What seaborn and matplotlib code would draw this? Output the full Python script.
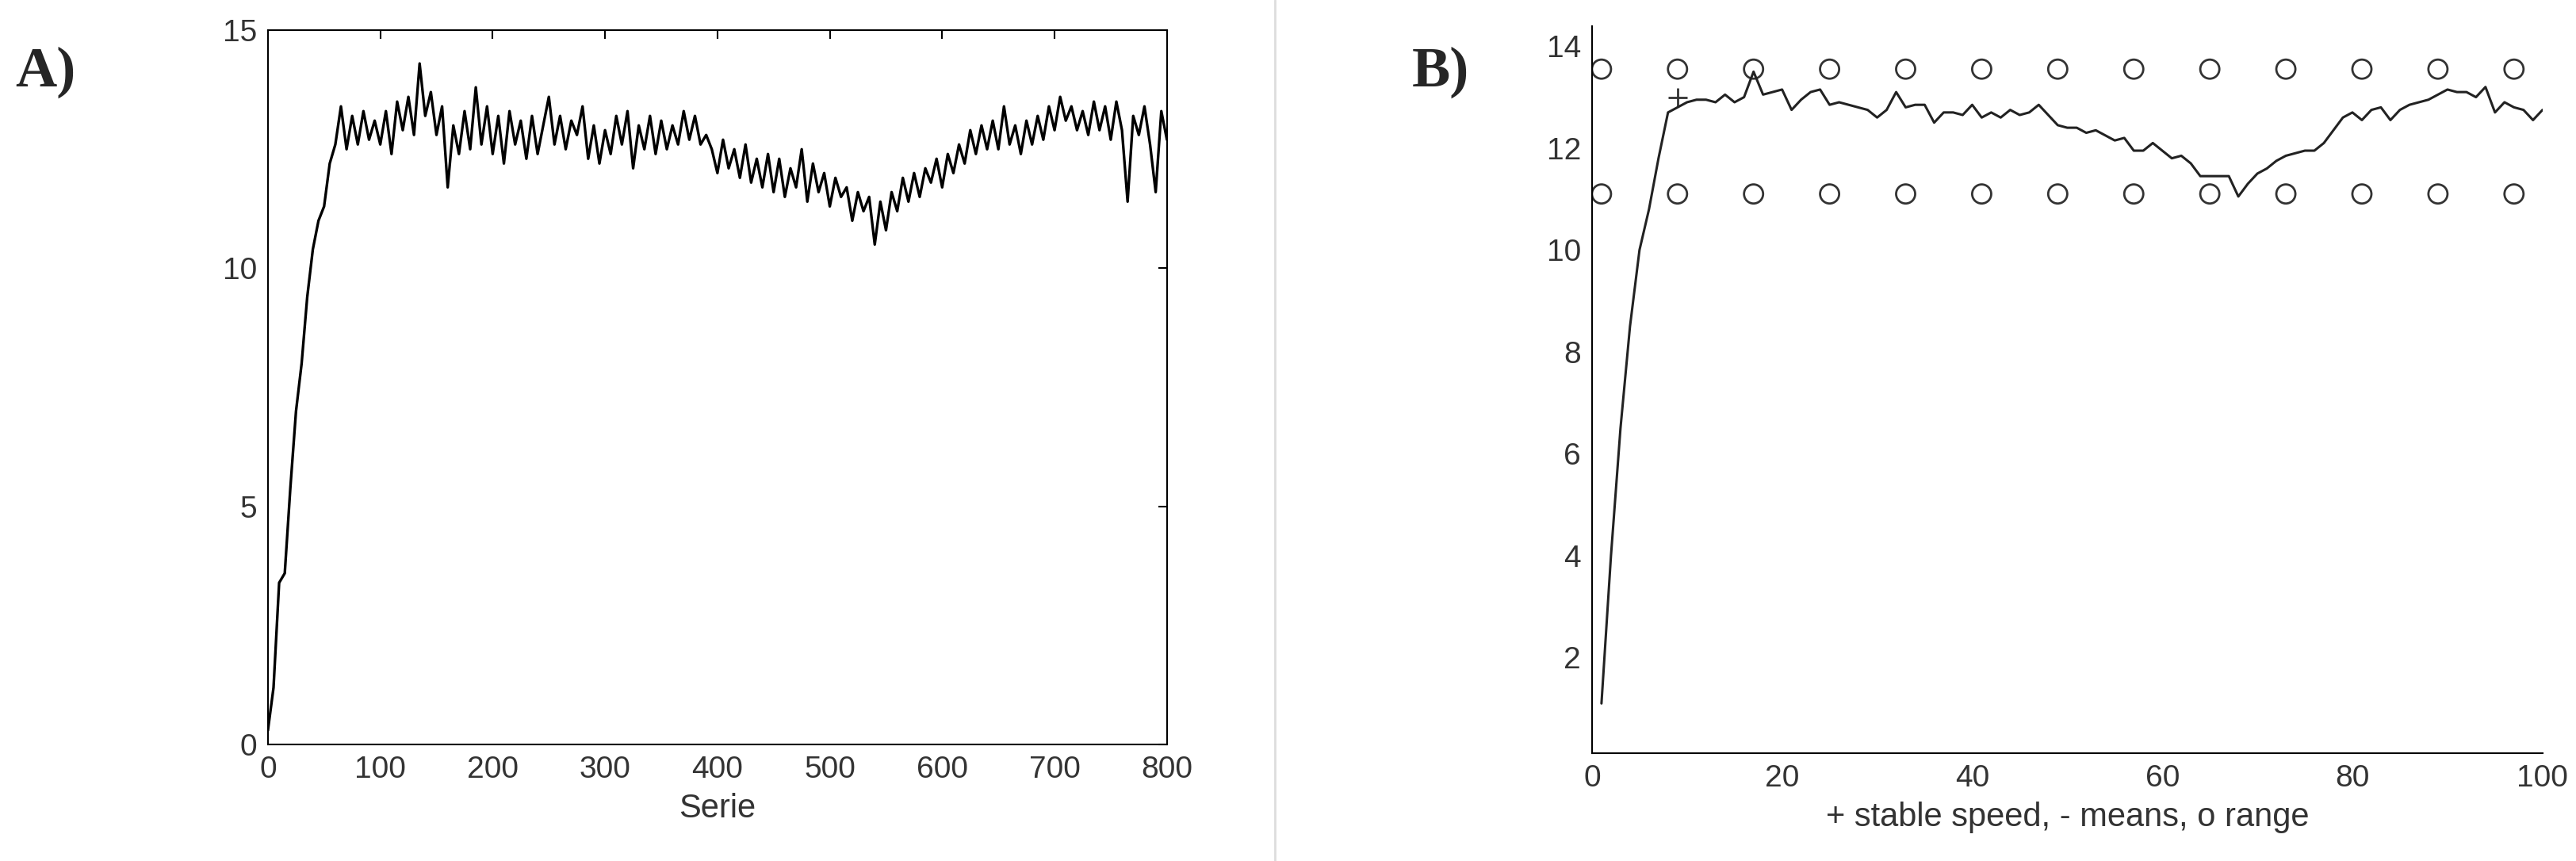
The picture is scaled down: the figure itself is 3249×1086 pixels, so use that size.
import numpy as np
import pandas as pd
import matplotlib
matplotlib.use("Agg")
import matplotlib.pyplot as plt
import seaborn as sns

sns.set_theme(style="white")
plt.rcParams['font.family'] = ['Liberation Sans', 'DejaVu Sans']

# Panel A: series (sampled every 5)
serie_x = list(range(0, 805, 5))
serie_y = [0.3,1.2,3.4,3.6,5.4,7.0,8.0,9.4,10.4,11.0,
           11.3,12.2,12.6,13.4,12.5,13.2,12.6,13.3,12.7,13.1,
           12.6,13.3,12.4,13.5,12.9,13.6,12.8,14.3,13.2,13.7,
           12.8,13.4,11.7,13.0,12.4,13.3,12.5,13.8,12.6,13.4,
           12.4,13.2,12.2,13.3,12.6,13.1,12.3,13.2,12.4,13.0,
           13.6,12.6,13.2,12.5,13.1,12.8,13.4,12.3,13.0,12.2,
           12.9,12.4,13.2,12.6,13.3,12.1,13.0,12.5,13.2,12.4,
           13.1,12.5,13.0,12.6,13.3,12.7,13.2,12.6,12.8,12.5,
           12.0,12.7,12.1,12.5,11.9,12.6,11.8,12.3,11.7,12.4,
           11.6,12.3,11.5,12.1,11.7,12.5,11.4,12.2,11.6,12.0,
           11.3,11.9,11.5,11.7,11.0,11.6,11.2,11.5,10.5,11.4,
           10.8,11.6,11.2,11.9,11.4,12.0,11.5,12.1,11.8,12.3,
           11.7,12.4,12.0,12.6,12.2,12.9,12.4,13.0,12.5,13.1,
           12.5,13.4,12.6,13.0,12.4,13.1,12.6,13.2,12.7,13.4,
           12.9,13.6,13.1,13.4,12.9,13.3,12.8,13.5,12.9,13.4,
           12.7,13.5,12.9,11.4,13.2,12.8,13.4,12.6,11.6,13.3,
           12.7]

# Panel B: means
mean_x = list(range(1, 101))
mean_y = [1.1,4.0,6.5,8.5,10.0,10.8,11.8,12.7,12.8,12.9,
          12.95,12.95,12.9,13.05,12.9,13.0,13.5,13.05,13.1,13.15,
          12.75,12.95,13.1,13.15,12.85,12.9,12.85,12.8,12.75,12.6,
          12.75,13.1,12.8,12.85,12.85,12.5,12.7,12.7,12.65,12.85,
          12.6,12.7,12.6,12.75,12.65,12.7,12.85,12.65,12.45,12.4,
          12.4,12.3,12.35,12.25,12.15,12.2,11.95,11.95,12.1,11.95,
          11.8,11.85,11.7,11.45,11.45,11.45,11.45,11.05,11.3,11.5,
          11.6,11.75,11.85,11.9,11.95,11.95,12.1,12.35,12.6,12.7,
          12.55,12.75,12.8,12.55,12.75,12.85,12.9,12.95,13.05,13.15,
          13.1,13.1,13.0,13.2,12.7,12.9,12.8,12.75,12.55,12.75]
range_x = [1,9,17,25,33,41,49,57,65,73,81,89,97]
range_hi = [13.55]*13
range_lo = [11.1]*13
stable_x = [9]
stable_y = [13.0]

W, H = 3249, 1086
fig = plt.figure(figsize=(W/100, H/100), dpi=100)
grey = '#333333'
tfs = 28

# ---- Panel A
axA = fig.add_axes([0.104, 0.135, 0.349, 0.830])
sns.lineplot(x=serie_x, y=serie_y, ax=axA, color='black', linewidth=2.4, estimator=None)
axA.set_xlim(0, 800)
axA.set_ylim(0, 15)
axA.set_xticks(range(0, 801, 100))
axA.set_yticks([0, 5, 10, 15])
axA.tick_params(direction='in', top=True, right=True, length=8, width=1.5, pad=10,
                labelsize=tfs, colors='black', labelcolor=grey)
for s in axA.spines.values():
    s.set_color('black'); s.set_linewidth(1.5); s.set_visible(True)
axA.set_xlabel('Serie', fontsize=tfs+2, color=grey, labelpad=8)

# ---- Panel B
axB = fig.add_axes([0.618, 0.125, 0.369, 0.845])
sns.lineplot(x=mean_x, y=mean_y, ax=axB, color='#222222', linewidth=2.2, estimator=None)
sns.scatterplot(x=range_x, y=range_hi, ax=axB, marker='o', s=300, facecolor='none',
                edgecolor='#333333', linewidth=2)
sns.scatterplot(x=range_x, y=range_lo, ax=axB, marker='o', s=300, facecolor='none',
                edgecolor='#333333', linewidth=2)
sns.scatterplot(x=stable_x, y=stable_y, ax=axB, marker='+', s=280, color='#333333', linewidth=2)
axB.set_xlim(0, 100)
axB.set_ylim(0.12, 14.4)
axB.set_xticks(range(0, 101, 20))
axB.set_yticks(range(2, 15, 2))
axB.spines['top'].set_visible(False)
axB.spines['right'].set_visible(False)
for s in ['left', 'bottom']:
    axB.spines[s].set_color('black'); axB.spines[s].set_linewidth(1.5)
axB.tick_params(direction='in', length=8, width=1.5, pad=10, labelsize=tfs,
                colors='black', labelcolor=grey)
axB.set_xlabel('+ stable speed, - means, o range', fontsize=tfs+2, color=grey, labelpad=8)

# divider
fig.add_artist(plt.Line2D([0.495, 0.495], [0.0, 1.0], color='#dddddd', linewidth=2))

fig.text(0.006, 0.9, 'A)', fontsize=52, fontweight='bold', family=['Liberation Serif'])
fig.text(0.548, 0.9, 'B)', fontsize=52, fontweight='bold', family=['Liberation Serif'])

fig.savefig('out.png', dpi=100, facecolor='white')
